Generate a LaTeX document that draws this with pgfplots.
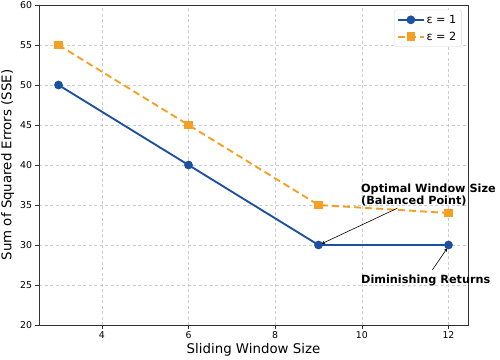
\documentclass[border=0pt]{standalone}
\usepackage{fontspec}
\setmainfont{DejaVu Sans}
\setsansfont{DejaVu Sans}
\usepackage{pgfplots}
\pgfplotsset{compat=1.18}
\definecolor{cblue}{RGB}{30,80,160}
\definecolor{corange}{RGB}{245,160,35}
\begin{document}
\begin{tikzpicture}
\begin{axis}[
  scale only axis,
  clip=false,
  width=429bp, height=320bp,
  xmin=2.55, xmax=12.45, ymin=20, ymax=60,
  xtick={4,6,8,10,12}, ytick={20,25,...,60},
  /pgf/number format/assume math mode=true,
  tick label style={font=\fontsize{9.4}{10}\selectfont},
  xlabel={Sliding Window Size},
  ylabel={Sum of Squared Errors (SSE)},
  label style={font=\fontsize{13.4}{15}\selectfont},
  xlabel style={yshift=3bp},
  ylabel style={yshift=-1bp},
  grid=major,
  major grid style={gray!40, dash pattern=on 3bp off 2.5bp, line width=0.6pt},
  axis line style={black!80, line width=0.8pt},
  tick style={black!80},
  major tick length=3.5bp,
  tick align=outside,
  xtick pos=bottom, ytick pos=left,
  legend style={at={(0.985,0.985)}, anchor=north east, font=\fontsize{11.3}{13}\selectfont,
    draw=black!15, rounded corners=2pt, inner sep=3pt, row sep=3pt},
  legend cell align=left,
  legend image code/.code={\draw[mark repeat=2,mark phase=2,#1] plot coordinates {(0cm,0cm) (0.45cm,0cm) (0.9cm,0cm)};},
]
\addplot[cblue, line width=1.9pt, mark=*, mark size=3.4pt, mark options={solid, fill=cblue}]
  coordinates {(3,50) (6,40) (9,30) (12,30)};
\addlegendentry{ε = 1}
\addplot[corange, line width=1.9pt, dash pattern=on 7bp off 4bp, mark=square*, mark size=3.3pt, mark options={solid, fill=corange}]
  coordinates {(3,55) (6,45) (9,35) (12,34)};
\addlegendentry{ε = 2}
\node[anchor=south west, align=left, font=\bfseries\fontsize{11.3}{11.8}\selectfont, inner sep=0pt] at (axis cs:9.98,34.85) {Optimal Window Size\\(Balanced Point)};
\draw[-stealth, line width=0.6pt] (axis cs:10.82,34.6) -- (axis cs:9.07,30.15);
\node[anchor=base west, font=\bfseries\fontsize{11.3}{12}\selectfont, inner sep=0pt] at (axis cs:9.98,25.25) {Diminishing Returns};
\draw[-stealth, line width=0.6pt] (axis cs:11.63,26.9) -- (axis cs:11.97,29.6);
\end{axis}
\pgfresetboundingbox
\useasboundingbox (-39bp,-35bp) rectangle (461bp,325bp);
\end{tikzpicture}
\end{document}
